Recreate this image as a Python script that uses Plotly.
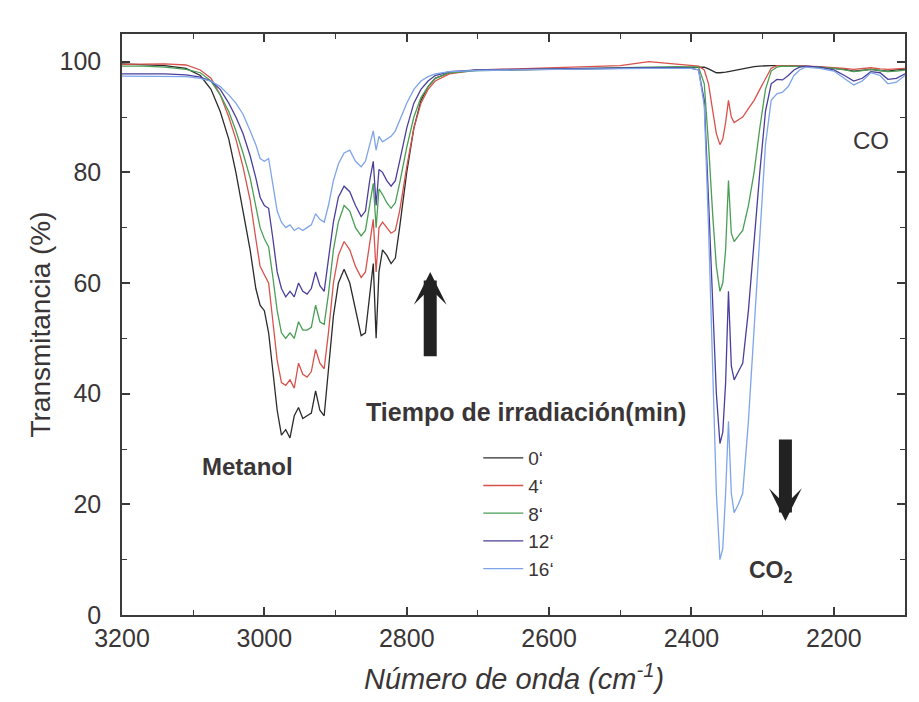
import plotly.graph_objects as go

# Wavenumber grid (cm^-1)
wavenumber = [3200, 3170, 3140, 3110, 3090, 3075, 3062, 3050, 3040, 3030, 3020, 3012, 3006, 3000,
              2994, 2988, 2982, 2976, 2970, 2964, 2958, 2952, 2946, 2940, 2934, 2928, 2922, 2916,
              2910, 2903, 2896, 2888, 2880, 2872, 2864, 2858, 2852, 2847, 2843, 2839, 2834, 2828,
              2822, 2816, 2810, 2800, 2790, 2780, 2770, 2760, 2740, 2700, 2650, 2600, 2550, 2500,
              2460, 2420, 2400, 2390, 2382, 2376, 2370, 2365, 2360, 2356, 2352, 2348, 2344, 2340,
              2334, 2328, 2320, 2312, 2304, 2296, 2288, 2280, 2272, 2264, 2256, 2248, 2240, 2220,
              2200, 2185, 2172, 2160, 2148, 2135, 2124, 2112, 2100]

t0 = [99.6, 99.5, 99.3, 98.8, 97.5, 95, 91, 86, 80, 73, 66, 59, 56, 55,
      51, 44, 37, 32.5, 33.5, 32, 36, 37.5, 35.5, 36, 36.5, 40.5, 37, 36,
      44, 54, 60, 62.5, 60, 55, 50.5, 51, 58, 63.5, 50, 62, 66, 65,
      63.5, 64.5, 70, 80, 88, 93, 95.5, 97, 98, 98.5, 98.5, 98.6, 98.6, 98.7,
      98.8, 98.9, 99, 99, 99, 98.7, 98.3, 98, 98, 98, 98.1, 98.2, 98.3, 98.4,
      98.6, 98.8, 99, 99.1, 99.2, 99.3, 99.3, 99.3, 99.3, 99.3, 99.3, 99.3, 99.2, 99,
      98.8, 98.6, 98.3, 98.5, 98.6, 98.4, 98.3, 98.5, 98.6]

t4 = [99.5, 99.6, 99.6, 99.4, 98.5, 97, 94, 90, 86, 81, 75, 68, 63, 61.5,
      60, 53, 46, 42, 41.5, 42.5, 41, 45.5, 43.5, 43, 44, 48, 45.5, 44.5,
      51, 60, 65, 67.5, 66, 63, 61, 62, 67, 71.5, 62, 70, 71, 70,
      69, 69.5, 73, 81, 88, 92.5, 95, 96.5, 97.8, 98.5, 98.7, 98.8, 99, 99.3,
      100, 99.6, 99.4, 99.2, 98.5, 96, 91, 87, 85, 86, 89, 93, 90, 89,
      89.5, 90, 91.5, 93, 95, 97, 98.8, 99.3, 99.3, 99.3, 99.3, 99.3, 99.2, 99.1,
      99, 98.8, 98.6, 98.8, 98.9, 98.7, 98.6, 98.7, 98.8]

t8 = [99.2, 99.2, 99, 98.6, 98, 96.5, 94, 91, 87.5, 83.5, 79, 74, 70, 68,
      66.5, 61, 55, 51, 50, 51, 50, 53, 51.5, 51.5, 52, 56, 53, 52.5,
      58, 66, 71, 74, 73, 70, 68.5, 69.5, 74, 78, 70, 77, 76, 74.5,
      73.5, 74.5, 78, 84.5, 90, 93.5, 95.5, 97, 98, 98.4, 98.5, 98.6, 98.7, 98.8,
      99, 99.1, 99.1, 99, 96, 85, 72, 63, 58.5, 60, 66, 78.5, 69, 67.5,
      68.5, 69.5, 74, 80, 88, 95, 98.3, 99, 99.2, 99.2, 99.2, 99.2, 99.1, 99,
      98.8, 98.5, 98.2, 98.4, 98.6, 98.4, 98.2, 98.3, 98.5]

t12 = [97.8, 97.8, 97.8, 97.6, 97.2, 96.5, 95, 92.5, 90, 87, 83, 79, 75.5, 74,
       73.5, 68, 62, 59, 57.5, 58.5, 57.5, 60, 58.5, 58, 59, 62, 59.5, 58.5,
       64, 71, 75.5, 77.5, 76.5, 74, 72, 73, 78.5, 82, 74, 80.5, 80, 78.5,
       77.5, 78.5, 82, 88, 92.5, 95, 96.5, 97.5, 98.2, 98.5, 98.6, 98.7, 98.7, 98.8,
       98.9, 98.9, 98.8, 98.5, 93, 75, 55, 40, 31, 33, 42, 58.5, 45, 42.5,
       44, 45.5, 55, 68, 80, 91, 96, 96.8, 96.7, 97.5, 98.5, 99, 99.2, 99,
       98.5, 97.5, 96.5, 97, 98.2, 98, 96.8, 97, 97.8]

t16 = [97.4, 97.4, 97.4, 97.3, 97, 96.5, 95.5, 94, 92.5, 90.5, 87.5, 85, 82.5, 82,
       82.5, 78, 73, 71, 70, 70.5, 69.5, 70, 69.5, 70, 70.5, 72.5, 71.5, 71,
       74, 78.5, 81.5, 83.5, 84, 82, 81, 82, 85, 87.5, 84, 86.5, 85.5, 86,
       86.5, 87.5, 89.5, 92.5, 95, 96.5, 97.3, 97.8, 98.2, 98.4, 98.5, 98.6, 98.6, 98.7,
       98.8, 98.8, 98.8, 98.5, 92, 70, 42, 22, 10, 12, 22, 35, 22, 18.5,
       20, 22, 35, 52, 70, 85, 93, 94.2, 94.5, 95.5, 97.5, 98.5, 99, 98.8,
       98.3, 97, 95.8, 96.5, 98, 97.5, 96, 96.3, 97.5]

series_names = ["0\u2018", "4\u2018", "8\u2018", "12\u2018", "16\u2018"]
series_values = [t0, t4, t8, t12, t16]
series_colors = ["#2b2b2b", "#d8524b", "#4a9e55", "#4a3f9c", "#7ea4ea"]

x_tick_vals = [3200, 3000, 2800, 2600, 2400, 2200]
y_tick_vals = [0, 20, 40, 60, 80, 100]

for v in series_values:
    assert len(v) == len(wavenumber)

FONT = "Liberation Sans, Arial, sans-serif"
TXT = "#3a3536"

fig = go.Figure()
for i, (name, vals, col) in enumerate(zip(series_names, series_values, series_colors)):
    fig.add_trace(go.Scatter(
        x=wavenumber, y=vals, mode="lines", name=name,
        line=dict(color=col, width=1.3),
        legendgroup="g%d" % i,
    ))

axis_common = dict(
    showline=True, linecolor="#3a3a3a", linewidth=1.5, mirror="ticks",
    ticks="inside", ticklen=8, tickwidth=1.5, tickcolor="#3a3a3a",
    showgrid=False, zeroline=False, automargin=False,
    tickfont=dict(family=FONT, size=25, color=TXT),
    minor=dict(ticks="inside", ticklen=5, tickwidth=1.2, tickcolor="#3a3a3a", showgrid=False),
)

fig.update_layout(
    width=903, height=686,
    margin=dict(l=114, r=6, t=26, b=79),
    paper_bgcolor="white", plot_bgcolor="white",
    font=dict(family=FONT, color=TXT),
    xaxis=dict(
        range=[3200, 2100], tickvals=x_tick_vals, minor_dtick=100,
        ticklabelstandoff=0,
        **axis_common,
    ),
    yaxis=dict(
        range=[0, 105], tickvals=y_tick_vals, minor_dtick=10,
        title=dict(text="Transmitancia (%)", font=dict(family=FONT, size=28, color=TXT), standoff=1),
        ticklabelstandoff=14,
        **axis_common,
    ),
    showlegend=True,
    legend=dict(
        x=0.455, y=0.303, xanchor="left", yanchor="top",
        bgcolor="rgba(0,0,0,0)", borderwidth=0,
        font=dict(family=FONT, size=19, color=TXT),
        tracegroupgap=0, itemwidth=40,
    ),
)

# x-axis title
fig.add_annotation(xref="paper", yref="paper", x=0.5, y=-0.107, yanchor="middle",
                   text="<i>Número de onda (cm<sup>-1</sup>)</i>", showarrow=False,
                   font=dict(family=FONT, size=29, color=TXT))

fig.add_annotation(x=3023, y=26.9, text="<b>Metanol</b>", showarrow=False,
                   font=dict(family=FONT, size=24, color=TXT))
fig.add_annotation(x=2633, y=36.6, text="<b>Tiempo de irradiación(min)</b>", showarrow=False,
                   font=dict(family=FONT, size=25, color=TXT))
fig.add_annotation(x=2288, y=7.8, text="<b>CO<sub>2</sub></b>", showarrow=False,
                   font=dict(family=FONT, size=23, color=TXT))
fig.add_annotation(x=2148, y=85.7, text="CO", showarrow=False,
                   font=dict(family=FONT, size=24, color=TXT))

# Arrows
fig.add_annotation(x=2767, y=62, ax=2767, ay=46.5, axref="x", ayref="y", xref="x", yref="y",
                   text="", showarrow=True, arrowhead=3, arrowsize=0.42, arrowwidth=13,
                   arrowcolor="#222222")
fig.add_annotation(x=2268, y=17, ax=2268, ay=32, axref="x", ayref="y", xref="x", yref="y",
                   text="", showarrow=True, arrowhead=3, arrowsize=0.42, arrowwidth=13,
                   arrowcolor="#222222")

fig.write_html("out.html")
